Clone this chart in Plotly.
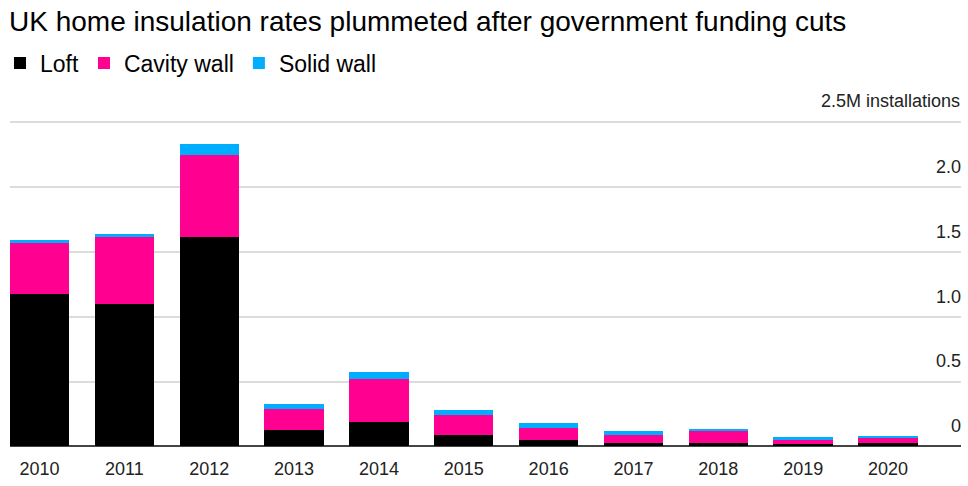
import plotly.graph_objects as go

years = ["2010", "2011", "2012", "2013", "2014", "2015", "2016", "2017", "2018", "2019", "2020"]
loft = [1.176, 1.102, 1.616, 0.125, 0.190, 0.091, 0.053, 0.030, 0.030, 0.018, 0.030]
cavity = [0.400, 0.512, 0.636, 0.164, 0.327, 0.150, 0.089, 0.061, 0.087, 0.035, 0.036]
solid = [0.015, 0.027, 0.079, 0.041, 0.055, 0.043, 0.040, 0.026, 0.017, 0.018, 0.018]

y_tickvals = [0, 0.5, 1.0, 1.5, 2.0, 2.5]
y_ticktext = ["0", "0.5", "1.0", "1.5", "2.0", "2.5M installations"]

FONT = "Liberation Sans, Arial, sans-serif"

fig = go.Figure()
fig.add_trace(go.Bar(name="Loft", x=years, y=loft, marker=dict(color="#000000", line=dict(width=0))))
fig.add_trace(go.Bar(name="Cavity wall", x=years, y=cavity, marker=dict(color="#ff0090", line=dict(width=0))))
fig.add_trace(go.Bar(name="Solid wall", x=years, y=solid, marker=dict(color="#00aeff", line=dict(width=0))))

fig.update_layout(
    width=968, height=486,
    barmode="stack", bargap=0.3,
    plot_bgcolor="white", paper_bgcolor="white",
    margin=dict(l=10, r=7, t=116, b=31),
    font=dict(family=FONT, color="#000000"),
    title=dict(
        text="UK home insulation rates plummeted after government funding cuts",
        font=dict(size=28, color="#000000", family=FONT),
        x=9 / 968, xanchor="left", xref="container",
        y=1 - 21 / 486, yanchor="middle", yref="container",
    ),
    legend=dict(
        orientation="h", xref="container", yref="container",
        x=0, xanchor="left", y=1 - 63 / 486, yanchor="middle",
        font=dict(size=23, color="#000000", family=FONT),
        traceorder="normal",
    ),
    showlegend=True,
    hovermode=False,
)
fig.update_xaxes(
    type="category", range=[-0.348, 10.86],
    showgrid=False, ticks="", showline=False,
    ticklabelstandoff=7,
    tickfont=dict(size=18, color="#222222", family=FONT),
)
fig.update_yaxes(
    side="right", range=[-0.02, 2.55],
    tickvals=y_tickvals, ticktext=y_ticktext,
    ticklabelposition="inside top", ticklabelshift=-8, ticklabelstandoff=-3,
    showgrid=True, gridcolor="#dcdcdc", gridwidth=1.5,
    zeroline=True, zerolinecolor="#444444", zerolinewidth=1.5,
    tickfont=dict(size=18, color="#222222", family=FONT),
    ticks="", showline=False,
)
# unit label for the top gridline, placed on the y scale
fig.add_annotation(
    text=y_ticktext[-1], xref="paper", yref="y",
    x=1, y=y_tickvals[-1], xanchor="right", yanchor="middle",
    yshift=21, xshift=1, showarrow=False,
    font=dict(size=18, color="#222222", family=FONT),
)

fig.write_html("out.html", config={"displayModeBar": False},
               post_script="document.body.style.margin='0';")
